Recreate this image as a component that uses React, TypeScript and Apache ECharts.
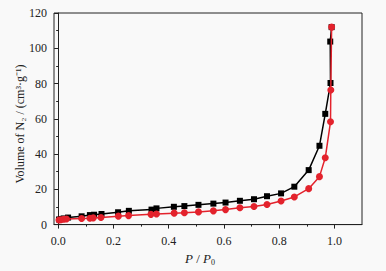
import React, { useEffect, useRef } from "react";
import * as echarts from "echarts";

const adsX = [0.003, 0.01, 0.02, 0.036, 0.085, 0.115, 0.13, 0.157, 0.217, 0.256, 0.338, 0.356, 0.419, 0.457, 0.508, 0.562, 0.606, 0.658, 0.709, 0.756, 0.807, 0.855, 0.907, 0.946, 0.967, 0.986, 0.985, 0.99];
const adsY = [2.9, 3.2, 3.5, 4.0, 4.7, 5.4, 5.6, 6.0, 7.0, 7.8, 8.5, 9.2, 10.1, 10.5, 11.2, 11.9, 12.5, 13.5, 14.4, 16.1, 17.7, 21.5, 30.9, 44.7, 62.8, 80.3, 103.8, 112];
const desX = [0.003, 0.01, 0.02, 0.03, 0.085, 0.115, 0.127, 0.155, 0.218, 0.255, 0.336, 0.356, 0.42, 0.457, 0.508, 0.562, 0.606, 0.658, 0.709, 0.756, 0.807, 0.855, 0.907, 0.946, 0.967, 0.986, 0.987, 0.99];
const desY = [2.6, 2.8, 3.0, 3.2, 3.5, 3.6, 3.8, 4.0, 4.8, 5.1, 5.8, 6.0, 6.5, 6.7, 7.2, 7.8, 8.5, 9.6, 10.3, 11.4, 13.4, 15.7, 20.4, 27.2, 37.9, 58.3, 76.3, 112];
const xMajorTicks = [0, 0.2, 0.4, 0.6, 0.8, 1.0];
const xMinorTicks = [0.1, 0.3, 0.5, 0.7, 0.9];

const FONT = "Liberation Serif";

export default function App() {
  const ref = useRef<HTMLDivElement>(null);
  useEffect(() => {
    if (!ref.current) return;
    const chart = echarts.init(ref.current, null, { renderer: "svg" });
    const pair = (xs: number[], ys: number[]) => xs.map((x, i) => [x, ys[i]]);
    chart.setOption({
      animation: false,
      backgroundColor: "#f9f9f9",
      textStyle: { fontFamily: FONT },
      grid: {
        left: 54,
        right: 24,
        top: 13,
        bottom: 37,
        show: true,
        borderColor: "#222",
        borderWidth: 1,
        backgroundColor: "transparent",
      },
      graphic: [
        {
          type: "text",
          x: 20,
          y: 124,
          rotation: Math.PI / 2,
          style: {
            text: "Volume of N₂ / (cm³·g⁻¹)",
            align: "center",
            verticalAlign: "middle",
            fill: "#222",
            fontFamily: FONT,
            fontSize: 12,
          },
        },
      ],
      xAxis: [
        {
          type: "value",
          min: -0.015,
          max: 1.1,
          axisLine: { show: true, lineStyle: { color: "#222", width: 1 } },
          axisTick: { show: true, customValues: xMajorTicks, length: 4, inside: false, lineStyle: { color: "#222" } },
          axisLabel: {
            customValues: xMajorTicks,
            formatter: (v: number) => v.toFixed(1),
            color: "#222",
            fontFamily: FONT,
            fontSize: 12,
            margin: 10,
          },
          splitLine: { show: false },
          name: "{i|P} / {i|P}{s|0}",
          nameLocation: "middle",
          nameGap: 21,
          nameTextStyle: {
            padding: [0, 16, 0, 0],
            rich: {
              i: { fontStyle: "italic", fontFamily: FONT, fontSize: 13, color: "#222", lineHeight: 16, verticalAlign: "middle" },
              s: { fontFamily: FONT, fontSize: 8, color: "#222", lineHeight: 8, verticalAlign: "bottom" },
            },
            fontFamily: FONT,
            fontSize: 13,
            color: "#222",
          },
        },
        {
          type: "value",
          min: -0.015,
          max: 1.1,
          position: "bottom",
          axisLine: { show: false },
          axisTick: { show: true, customValues: xMinorTicks, length: 2, lineStyle: { color: "#222" } },
          axisLabel: { show: false },
          splitLine: { show: false },
        },
      ],
      yAxis: {
        type: "value",
        min: 0,
        max: 120,
        interval: 20,
        axisLine: { show: true, lineStyle: { color: "#222", width: 1 } },
        axisTick: { show: true, length: 4, lineStyle: { color: "#222" } },
        minorTick: { show: true, splitNumber: 2, length: 2, lineStyle: { color: "#222" } },
        axisLabel: { color: "#222", fontFamily: FONT, fontSize: 12, margin: 7 },
        splitLine: { show: false },
      },
      series: [
        {
          type: "line",
          name: "adsorption",
          data: pair(adsX, adsY),
          symbol: "rect",
          symbolSize: 6,
          lineStyle: { color: "#000", width: 1.5 },
          itemStyle: { color: "#000" },
          z: 2,
        },
        {
          type: "line",
          name: "desorption",
          data: pair(desX, desY),
          symbol: "circle",
          symbolSize: 7,
          lineStyle: { color: "#e3222c", width: 1.5 },
          itemStyle: { color: "#e3222c" },
          z: 3,
        },
      ],
    });
    return () => chart.dispose();
  }, []);
  return (
    <div
      ref={ref}
      style={{ position: "fixed", left: 0, top: 0, width: 386, height: 271 }}
    />
  );
}
